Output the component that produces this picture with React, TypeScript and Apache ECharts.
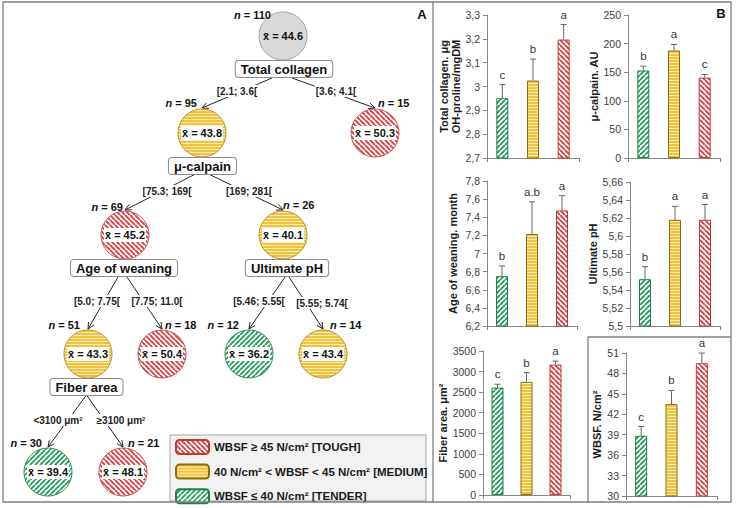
import React, { useEffect, useRef } from 'react';
import * as echarts from 'echarts';

const FONT = '"Liberation Sans", Arial, Helvetica, sans-serif';

// ---------- classes ----------
const classNames = ['WBSF ≤ 40 N/cm² [TENDER]', '40 N/cm² < WBSF < 45 N/cm² [MEDIUM]', 'WBSF ≥ 45 N/cm² [TOUGH]'];
const classKeys = ['tender', 'medium', 'tough'];
const legendOrder = [2, 1, 0];
const categories = ['TENDER', 'MEDIUM', 'TOUGH'];

// ---------- panel B data ----------
const collagenMean = [2.951, 3.025, 3.197];
const collagenUpper = [3.008, 3.115, 3.26];
const collagenLetters = ['c', 'b', 'a'];
const calpainMean = [153, 188, 140.5];
const calpainUpper = [160.5, 198.5, 146];
const calpainLetters = ['b', 'a', 'c'];
const weaningMean = [6.75, 7.215, 7.475];
const weaningUpper = [6.862, 7.57, 7.638];
const weaningLetters = ['b', 'a.b', 'a'];
const phMean = [5.552, 5.618, 5.618];
const phUpper = [5.566, 5.633, 5.635];
const phLetters = ['b', 'a', 'a'];
const fiberMean = [2610, 2750, 3170];
const fiberUpper = [2692, 2975, 3255];
const fiberLetters = ['c', 'b', 'a'];
const wbsfMean = [38.85, 43.5, 49.5];
const wbsfUpper = [40.2, 45.5, 51];
const wbsfLetters = ['c', 'b', 'a'];

const panelNames = ['Total collagen. μg\nOH-proline/mgDM', 'μ-calpain. AU', 'Age of weaning. month', 'Ultimate pH', 'Fiber area. μm²', 'WBSF. N/cm²'];
const panelMin = [2.7, 0, 6.2, 5.5, 0, 30];
const panelMax = [3.3, 250, 7.8, 5.66, 3500, 51];
const panelStep = [0.1, 50, 0.2, 0.02, 500, 3];

// ---------- panel A (tree) data ----------
const treeN = [110, 95, 15, 69, 26, 51, 18, 12, 14, 30, 21];
const treeMean = [44.6, 43.8, 50.3, 45.2, 40.1, 43.3, 50.4, 36.2, 43.4, 39.4, 48.1];
const treeClass = ['all', 'medium', 'tough', 'tough', 'medium', 'medium', 'tough', 'tender', 'medium', 'tender', 'tough'];
const treeSplit = ['Total collagen', 'μ-calpain', '', 'Age of weaning', 'Ultimate pH', 'Fiber area', '', '', '', '', ''];
const edgeFrom = [0, 0, 1, 1, 3, 3, 4, 4, 5, 5];
const edgeTo = [1, 2, 3, 4, 5, 6, 7, 8, 9, 10];
const edgeCond = ['[2.1; 3.6[', '[3.6; 4.1[', '[75.3; 169[', '[169; 281[', '[5.0; 7.75[', '[7.75; 11.0[', '[5.46; 5.55[', '[5.55; 5.74[', '<3100 μm²', '≥3100 μm²'];

// ---------- layout (positions only) ----------
const nodeX = [283, 202, 375, 125, 283, 88, 162, 249, 323, 48, 123];
const nodeY = [36, 133, 133, 235, 235, 354, 354, 354, 354, 472, 472];
const nLabX = [271, 197, 378, 123, 283, 80, 165, 239, 330, 42, 128];
const nLabY = [15, 103, 103, 207, 205, 325, 325, 325, 325, 443, 443];
const nLabAlign = ['right', 'right', 'left', 'right', 'left', 'right', 'left', 'right', 'left', 'right', 'left'];
const boxX = [284, 202.5, 0, 124, 287, 86.5, 0, 0, 0, 0, 0];
const edgeDx = [-12, 8, -7, 6, -6, 3, -2, 2, 0, 0];
const edgeStartDy = [42, 41, 0, 42, 42, 41, 0, 0, 0, 0, 0];
const edgeLabX = [237, 336, 167, 249, 97, 157, 259, 322, 58, 121];
const edgeLabY = [91, 91, 191, 191, 301, 301, 301, 303, 420, 420];
const gridBoxes = [
  [487, 15, 92, 143],
  [628, 15, 92, 143],
  [487, 181, 90, 145],
  [630, 182, 90, 144],
  [483, 351, 87, 144],
  [626, 353, 91, 143],
];
const nameGaps = [24, 22, 28, 21, 26, 19];

function makePattern(kind: string) {
  const c = document.createElement('canvas');
  let w = 5, h = 5;
  if (kind === 'medium') { w = 4; h = 3; }
  c.width = w; c.height = h;
  const ctx = c.getContext('2d')!;
  if (kind === 'medium') {
    ctx.fillStyle = '#fdeeb8';
    ctx.fillRect(0, 0, w, h);
    ctx.fillStyle = '#f3c23c';
    ctx.fillRect(0, 0, w, 2);
  } else if (kind === 'all') {
    ctx.fillStyle = '#d9d9d9';
    ctx.fillRect(0, 0, w, h);
  } else {
    ctx.fillStyle = '#ffffff';
    ctx.fillRect(0, 0, w, h);
    ctx.strokeStyle = kind === 'tough' ? '#e0393b' : '#1f9d58';
    ctx.lineWidth = 1.8;
    ctx.beginPath();
    for (const k of [-w, 0, w]) {
      if (kind === 'tough') { ctx.moveTo(k, 0); ctx.lineTo(k + w, h); }
      else { ctx.moveTo(k, h); ctx.lineTo(k + w, 0); }
    }
    ctx.stroke();
  }
  return { image: c.toDataURL(), repeat: 'repeat', imageWidth: w, imageHeight: h };
}

const strokeOf: Record<string, string> = {
  tender: '#1e7d48',
  medium: '#8a6d10',
  tough: '#c0392b',
  all: '#a6a6a6',
};
const circleStroke: Record<string, string> = {
  tender: '#3f8f5f',
  medium: '#b8952c',
  tough: '#c45a5a',
  all: '#a6a6a6',
};

const fmt = (v: number) => String(Math.round(v * 1000) / 1000).replace('.', ',');

export default function App() {
  const ref = useRef<HTMLDivElement>(null);
  useEffect(() => {
    if (!ref.current) return;
    const chart = echarts.init(ref.current, undefined, { renderer: 'svg' });
    const pat: Record<string, any> = {
      tender: makePattern('tender'),
      medium: makePattern('medium'),
      tough: makePattern('tough'),
      all: makePattern('all'),
    };
    const panels = [
      { mean: collagenMean, upper: collagenUpper, letters: collagenLetters },
      { mean: calpainMean, upper: calpainUpper, letters: calpainLetters },
      { mean: weaningMean, upper: weaningUpper, letters: weaningLetters },
      { mean: phMean, upper: phUpper, letters: phLetters },
      { mean: fiberMean, upper: fiberUpper, letters: fiberLetters },
      { mean: wbsfMean, upper: wbsfUpper, letters: wbsfLetters },
    ];
    const axisColor = '#868686';
    const grid: any[] = gridBoxes.map((b) => ({ left: b[0], top: b[1], width: b[2], height: b[3] }));
    grid.push({ left: 0, top: 0, width: 736, height: 508 });
    const xAxis: any[] = gridBoxes.map((_, k) => ({
      type: 'category', gridIndex: k, data: categories,
      axisLine: { show: true, lineStyle: { color: axisColor } },
      axisTick: { show: true, length: 4, lineStyle: { color: axisColor } },
      axisLabel: { show: false },
      splitLine: { show: false },
    }));
    xAxis.push({ type: 'value', gridIndex: 6, min: 0, max: 736, show: false });
    const yAxis: any[] = gridBoxes.map((_, k) => ({
      type: 'value', gridIndex: k, min: panelMin[k], max: panelMax[k], interval: panelStep[k],
      name: panelNames[k], nameLocation: 'middle', nameGap: nameGaps[k],
      nameTextStyle: { fontWeight: 'bold', fontSize: 11, color: '#1a1a1a', fontFamily: FONT, lineHeight: 12 },
      axisLine: { show: true, lineStyle: { color: axisColor } },
      axisTick: { show: true, length: 4, lineStyle: { color: axisColor } },
      axisLabel: { fontSize: 10.5, color: '#404040', margin: 7, formatter: fmt, fontFamily: FONT },
      splitLine: { show: false },
    }));
    yAxis.push({ type: 'value', gridIndex: 6, min: 0, max: 508, inverse: true, show: false });

    const series: any[] = [];
    panels.forEach((p, k) => {
      classKeys.forEach((ck, ci) => {
        series.push({
          type: 'bar', name: classNames[ci], xAxisIndex: k, yAxisIndex: k,
          barWidth: 12, barGap: '-100%',
          data: categories.map((_, j) => (j === ci ? p.mean[j] : '-')),
          itemStyle: { color: pat[ck], borderColor: strokeOf[ck], borderWidth: 1 },
          silent: true,
        });
      });
      series.push({
        type: 'custom', xAxisIndex: k, yAxisIndex: k, silent: true, z: 5,
        data: p.mean.map((m, j) => [j, m, p.upper[j]]),
        encode: { x: 0, y: 1 },
        renderItem: (params: any, api: any) => {
          const j = api.value(0);
          const base = api.coord([j, api.value(1)]);
          const top = api.coord([j, api.value(2)]);
          return {
            type: 'group',
            children: [
              { type: 'line', shape: { x1: base[0], y1: base[1], x2: top[0], y2: top[1] }, style: { stroke: '#666', lineWidth: 1 } },
              { type: 'line', shape: { x1: top[0] - 3, y1: top[1], x2: top[0] + 3, y2: top[1] }, style: { stroke: '#666', lineWidth: 1 } },
              { type: 'text', x: top[0], y: top[1] - 4, style: { text: p.letters[j], fontSize: 11.5, fontFamily: FONT, fill: '#333', align: 'center', verticalAlign: 'bottom' } },
            ],
          };
        },
      });
    });

    // tree edges
    series.push({
      type: 'custom', xAxisIndex: 6, yAxisIndex: 6, silent: true, z: 3,
      data: edgeTo.map((t, i) => [nodeX[t], nodeY[t], i]),
      encode: { x: 0, y: 1 },
      renderItem: (params: any, api: any) => {
        const i = api.value(2);
        const f = edgeFrom[i];
        const s = api.coord([boxX[f] + edgeDx[i], nodeY[f] + edgeStartDy[f]]);
        const e = api.coord([api.value(0), api.value(1) - 25]);
        const dx = e[0] - s[0], dy = e[1] - s[1];
        const len = Math.sqrt(dx * dx + dy * dy);
        const ux = dx / len, uy = dy / len;
        const a = 0.45, L = 7;
        const p1 = [e[0] - L * (ux * Math.cos(a) - uy * Math.sin(a)), e[1] - L * (uy * Math.cos(a) + ux * Math.sin(a))];
        const p2 = [e[0] - L * (ux * Math.cos(-a) - uy * Math.sin(-a)), e[1] - L * (uy * Math.cos(-a) + ux * Math.sin(-a))];
        const lp = api.coord([edgeLabX[i], edgeLabY[i]]);
        return {
          type: 'group',
          children: [
            { type: 'line', shape: { x1: s[0], y1: s[1], x2: e[0], y2: e[1] }, style: { stroke: '#262626', lineWidth: 1 } },
            { type: 'polyline', shape: { points: [p1, e, p2] }, style: { stroke: '#262626', lineWidth: 1, fill: 'none' } },
            { type: 'text', x: lp[0], y: lp[1], style: { text: edgeCond[i], fontSize: 10, fontWeight: 'bold', fontFamily: FONT, fill: '#222', align: 'center', verticalAlign: 'middle', backgroundColor: '#fff', padding: [1, 1] } },
          ],
        };
      },
    });

    // tree nodes
    series.push({
      type: 'custom', xAxisIndex: 6, yAxisIndex: 6, silent: true, z: 4,
      data: treeN.map((_, i) => [nodeX[i], nodeY[i], i]),
      encode: { x: 0, y: 1 },
      renderItem: (params: any, api: any) => {
        const i = api.value(2);
        const c = api.coord([api.value(0), api.value(1)]);
        const cls = treeClass[i];
        const children: any[] = [
          { type: 'circle', shape: { cx: c[0], cy: c[1], r: 24 }, style: { fill: pat[cls], stroke: circleStroke[cls], lineWidth: 1 } },
          { type: 'text', x: c[0], y: c[1], style: { text: 'x\u0304 = ' + treeMean[i].toFixed(1), fontSize: 11, fontWeight: 'bold', fontFamily: FONT, fill: '#111', align: 'center', verticalAlign: 'middle', backgroundColor: cls === 'all' ? 'transparent' : '#fff', padding: [2, 1, 1, 1] } },
        ];
        const lp = api.coord([nLabX[i], nLabY[i]]);
        children.push({
          type: 'text', x: lp[0], y: lp[1],
          style: {
            text: '{i|n}{b| = ' + treeN[i] + '}',
            rich: {
              i: { fontStyle: 'italic', fontWeight: 'bold', fontSize: 11, fontFamily: FONT, fill: '#111' },
              b: { fontWeight: 'bold', fontSize: 11, fontFamily: FONT, fill: '#111' },
            },
            align: nLabAlign[i], verticalAlign: 'middle',
          },
        });
        if (treeSplit[i]) {
          const bp = api.coord([boxX[i], nodeY[i] + 33]);
          children.push({
            type: 'text', x: bp[0], y: bp[1],
            style: { text: treeSplit[i], fontSize: 13, fontWeight: 'bold', fontFamily: FONT, fill: '#111', align: 'center', verticalAlign: 'middle', backgroundColor: '#fff', borderColor: '#8c8c8c', borderWidth: 1, borderRadius: 3, padding: [2, 5, 1, 5] },
          });
        }
        return { type: 'group', children };
      },
    });

    const frame = '#7f7f7f';
    chart.setOption({
      animation: false,
      backgroundColor: '#ffffff',
      textStyle: { fontFamily: FONT },
      grid, xAxis, yAxis, series,
      legend: {
        orient: 'vertical', left: 175, top: 439, itemWidth: 33, itemHeight: 14, itemGap: 8.6,
        icon: 'roundRect', selectedMode: false, padding: 0, z: 10,
        data: legendOrder.map((i) => classNames[i]),
        textStyle: { fontWeight: 'bold', fontSize: 11.5, color: '#1a1a1a', fontFamily: FONT },
      },
      graphic: [
        { type: 'rect', z: 0, silent: true, shape: { x: 170, y: 435, width: 256, height: 66 }, style: { fill: '#f2f2f2', stroke: '#a6a6a6', lineWidth: 1 } },
        { type: 'rect', z: 50, silent: true, shape: { x: 3, y: 2, width: 728, height: 500 }, style: { fill: 'none', stroke: frame, lineWidth: 1.3 } },
        { type: 'line', z: 50, silent: true, shape: { x1: 433, y1: 2, x2: 433, y2: 502 }, style: { stroke: frame, lineWidth: 1.3 } },
        { type: 'polyline', z: 50, silent: true, shape: { points: [[588, 502], [588, 337], [731, 337]] }, style: { stroke: frame, fill: 'none', lineWidth: 1.3 } },
        { type: 'text', z: 50, x: 422, y: 14, style: { text: 'A', fontSize: 13, fontWeight: 'bold', fontFamily: FONT, fill: '#111', align: 'center', verticalAlign: 'middle' } },
        { type: 'text', z: 50, x: 721, y: 13, style: { text: 'B', fontSize: 13, fontWeight: 'bold', fontFamily: FONT, fill: '#111', align: 'center', verticalAlign: 'middle' } },
      ],
    });
    return () => chart.dispose();
  }, []);
  return <div ref={ref} style={{ position: 'absolute', left: 0, top: 0, width: 736, height: 508 }} />;
}
